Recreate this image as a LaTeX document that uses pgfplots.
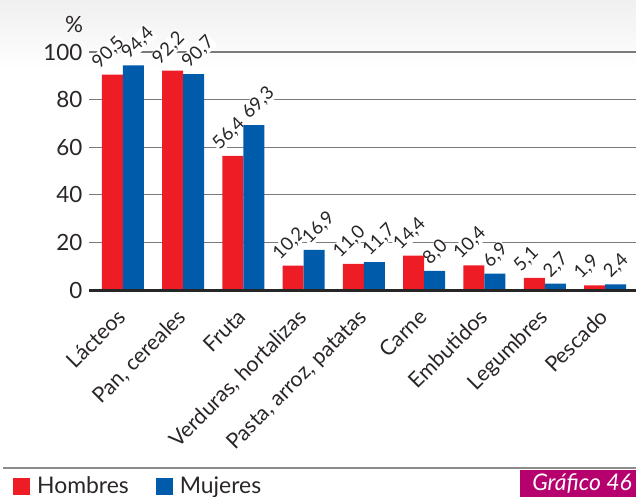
\documentclass[border=0pt]{standalone}
\usepackage{fontspec}
\setmainfont{Lato}
\usepackage{pgfplots}
\usepackage{pgfplotstable}
\pgfplotsset{compat=1.18}
\definecolor{cRed}{HTML}{EE1C25}
\definecolor{cBlue}{HTML}{005BAA}
\definecolor{cMag}{HTML}{B5006E}
\definecolor{cGrid}{HTML}{7A7A7A}
\definecolor{cTxt}{HTML}{2A2627}

\pgfplotstableread{
x h m
0 90.5 94.4
1 92.2 90.7
2 56.4 69.3
3 10.2 16.9
4 11.0 11.7
5 14.4 8.0
6 10.4 6.9
7 5.1 2.7
8 1.9 2.4
}\datatab

\begin{document}
\begin{tikzpicture}[x=1bp,y=1bp]
\useasboundingbox (0,0) rectangle (636,-497);
\shade[top color=black!6, bottom color=white] (0,0) rectangle (636,-70);
\begin{axis}[
  at={(89bp,-290bp)}, anchor=south west,
  x=60.25bp, y=2.38bp,
  xmin=-0.564, xmax=8.515, ymin=0, ymax=100,
  clip=false, clip marker paths=true,
  axis line style={draw=none},
  major tick length=0pt,
  ytick={0,20,40,60,80,100},
  ymajorgrids,
  grid style={cGrid, line width=1.3bp},
  xtick={0,...,8},
  xticklabels={L\'acteos,{Pan, cereales},Fruta,{Verduras, hortalizas},{Pasta, arroz, patatas},Carne,Embutidos,Legumbres,Pescado},
  xticklabel style={xshift=-7bp, yshift=-16bp, rotate=45, anchor=north east, font=\fontsize{21.5}{23}\selectfont, text=cTxt, inner sep=1bp},
  yticklabel style={font=\fontsize{22.5}{24}\selectfont, text=cTxt, xshift=-3bp},
  /pgf/number format/assume math mode=true,
  bar width=21bp,
  nodes near coords style={/pgf/number format/.cd, fixed, fixed zerofill, precision=1, use comma, assume math mode=true, /tikz/.cd, anchor=base west, font=\fontsize{18.5}{20}\selectfont, text=cTxt, fill=white, inner sep=0.5bp},
  legend columns=2,
  legend style={at={(-0.1390,-0.8235)}, anchor=west, inner sep=0pt, draw=none, fill=none, font=\fontsize{23}{24}\selectfont, text=cTxt,
    nodes={inner ysep=0.5bp},
    /tikz/every odd column/.append style={column sep=5bp},
    /tikz/every even column/.append style={column sep=25bp}},
  legend image code/.code={\fill[#1] (0bp,-8.5bp) rectangle (17bp,8.5bp);},
]
% value labels first (white boxes hide the grid); bars drawn after them
\addplot[draw=none, mark=none, forget plot, nodes near coords, every node near coord/.append style={xshift=-24bp, yshift=5bp, rotate=45}] table[x=x, y=h] {\datatab};
\addplot[draw=none, mark=none, forget plot, nodes near coords, every node near coord/.append style={xshift=5.5bp, yshift=5bp, rotate=45}] table[x=x, y=m] {\datatab};
\addplot[ybar, bar shift=-10.5bp, fill=cRed, draw=none] table[x=x, y=h] {\datatab};
\addlegendentry{Hombres}
\addplot[ybar, bar shift=10.5bp, fill=cBlue, draw=none] table[x=x, y=m] {\datatab};
\addlegendentry{Mujeres}
\draw[line width=3bp, black!85] (rel axis cs:0,0) -- (rel axis cs:1,0);
\end{axis}
\node[font=\fontsize{22.5}{24}\selectfont, text=cTxt] at (74,-24) {\%};
\draw[line width=1.5bp, black!45] (3,-468) -- (636,-468);
\fill[cMag] (520,-469.5) rectangle (636,-497);
\node[font=\fontsize{23}{24}\selectfont\itshape, text=white, anchor=base] at (582,-490.5) {Gráfico 46};
\end{tikzpicture}
\end{document}
